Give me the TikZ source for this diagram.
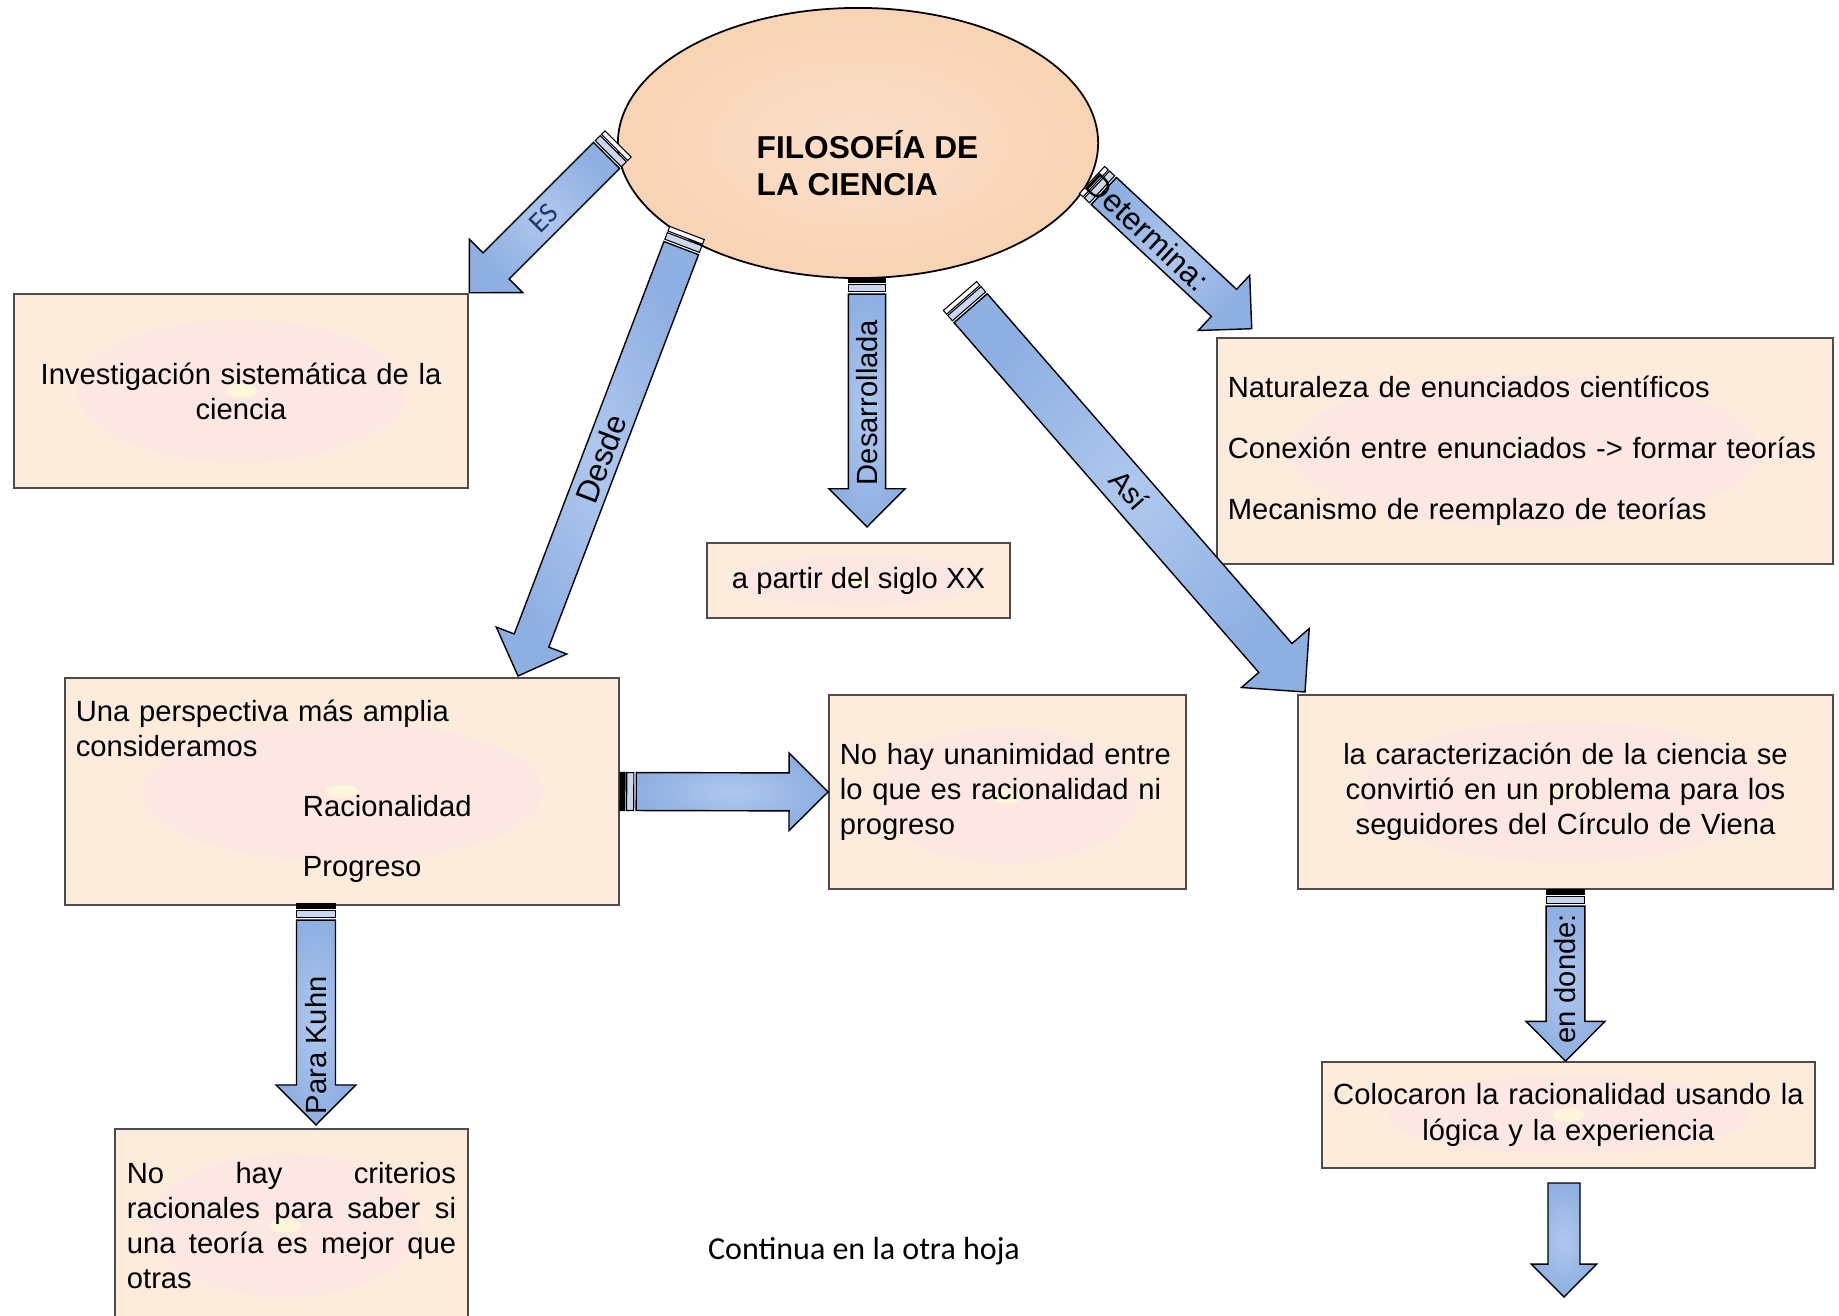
\documentclass[tikz,border=0pt]{standalone}
\usepackage{fontspec}
\setmainfont{Liberation Sans}
\newfontfamily\calibri{Carlito}
\usepackage{tikz}
\usetikzlibrary{shapes.geometric,calc}
\definecolor{cajafondo}{HTML}{FDEBDC}
\definecolor{rosa}{HTML}{FCE7E3}
\definecolor{amarillo}{HTML}{FDF6DA}
\definecolor{durazno}{HTML}{F8D3B4}
\definecolor{duraznoclaro}{HTML}{FBDFCA}
\definecolor{azul}{HTML}{8EAFE2}
\definecolor{azulclaro}{HTML}{AFC8EE}
\definecolor{tapa}{HTML}{C9D8F0}
\definecolor{marino}{HTML}{1F3A70}
\tikzset{
  font={\fontsize{8.3pt}{10pt}\selectfont}}
\tikzset{
  caja/.style={draw=black!70, line width=.5pt, fill=cajafondo, inner sep=0pt},
  brillo/.style n args={4}{path picture={
    \fill[rosa] ([xshift=#3*0.01cm, yshift=-#4*0.01cm]path picture bounding box.center) ellipse [x radius=#1*0.01cm, y radius=#2*0.01cm];
    \fill[amarillo] ([xshift=#3*0.01cm, yshift=-#4*0.01cm]path picture bounding box.center) ellipse [x radius=0.16cm, y radius=0.07cm];}},
  elipse/.style={ellipse, draw=black, line width=.5pt, inner color=duraznoclaro, outer color=durazno, minimum width=4.8cm, minimum height=2.7cm, inner sep=0pt},
  titulo/.style={align=left, inner sep=0pt, font=\bfseries\fontsize{9pt}{10.4pt}\selectfont},
  etiqueta/.style={inner sep=0pt, font=\fontsize{8.3pt}{9pt}\selectfont},
  cuerpo/.style={draw=black, line width=.4pt, inner color=azulclaro, outer color=azul}}

% \flecha[tapa]{nombre}{desde}{hasta}{media anchura}{texto}{pos}{giro}
\newcommand{\flecha}[8][black]{%
  \path let \p1=($(#4)-(#3)$) in
    \pgfextra{\pgfmathsetmacro\fla{atan2(\y1,\x1)}\pgfmathsetmacro\fll{veclen(\x1,\y1)}%
      \xdef\flang{\fla}\xdef\fllen{\fll}};
  \begin{scope}[shift={(#3)}, rotate=\flang]
    \def\fltmp{#1}\def\flno{none}%
    \ifx\fltmp\flno \def\flini{0pt}\else
      \draw[line width=.3pt, fill=#1] (0pt,-#5pt) rectangle (1.4pt,#5pt);
      \draw[line width=.3pt, fill=tapa] (1.9pt,-#5pt) rectangle (3.9pt,#5pt);
      \def\flini{4.6pt}\fi
    \shadedraw[cuerpo] (\flini,-#5pt) -- ({\fllen pt-2.05*#5pt},-#5pt)
      -- ({\fllen pt-2.05*#5pt},{-2.04*#5pt}) -- ({\fllen pt},0pt)
      -- ({\fllen pt-2.05*#5pt},{2.04*#5pt}) -- ({\fllen pt-2.05*#5pt},#5pt)
      -- (\flini,#5pt) -- cycle;
    \node[etiqueta, transform shape, rotate=#8] (#2) at ({#7*\fllen pt},0pt) {#6};
  \end{scope}}

\begin{document}
\begin{tikzpicture}[x=0.01cm, y=-0.01cm]
\useasboundingbox (0,0) rectangle (1839,1316);

\node[elipse] (filo) at (858,143) {};
\node[titulo, anchor=west] (filotxt) at (756,163) {FILOSOFÍA DE\\LA CIENCIA};

\node[caja, minimum width=4.54cm, minimum height=1.94cm, text width=4.3cm, align=center, brillo={164}{71}{0}{0}] (inv) at (241,391) {Investigación sistemática de la\\ciencia};
\node[caja, minimum width=3.03cm, minimum height=.75cm, brillo={125}{25}{0}{0}] (siglo) at (858.5,580.5) {a partir del siglo XX};
\node[caja, minimum width=6.16cm, minimum height=2.26cm, text width=5.94cm, align=left, brillo={235}{76}{0}{0}] (enun) at (1525,451) {Naturaleza de enunciados científicos\\[7.3pt]Conexión entre enunciados -> formar teorías\\[7.3pt]Mecanismo de reemplazo de teorías};
\node[caja, minimum width=5.54cm, minimum height=2.27cm, text width=5.32cm, align=left, brillo={200}{70}{0}{0}] (persp) at (342,791.5) {Una perspectiva más amplia\\consideramos\\[7.1pt]\hspace*{2.27cm}Racionalidad\\[7.1pt]\hspace*{2.27cm}Progreso};
\node[caja, minimum width=3.57cm, minimum height=1.94cm, text width=3.35cm, align=left, brillo={130}{67}{0}{4}] (unan) at (1007.5,792) {No hay unanimidad entre\\lo que es racionalidad ni\\progreso};
\node[caja, minimum width=5.35cm, minimum height=1.94cm, text width=5.1cm, align=center, brillo={205}{70}{0}{0}] (carac) at (1565.5,792) {la caracterización de la ciencia se\\convirtió en un problema para los\\seguidores del Círculo de Viena};
\node[caja, minimum width=4.93cm, minimum height=1.06cm, text width=4.85cm, align=center, brillo={180}{39}{0}{0}] (coloc) at (1568.5,1115) {Colocaron la racionalidad usando la\\lógica y la experiencia};
\node[caja, minimum width=3.53cm, minimum height=1.93cm, text width=3.29cm, align=justify, brillo={135}{71}{-6}{0}] (crit) at (291.5,1225.5) {No hay criterios\linebreak racionales para saber si\linebreak una teoría es mejor que\linebreak otras};
\node[font=\calibri\fontsize{9.1pt}{11pt}\selectfont] (continua) at (864,1251) {Continua en la otra hoja};

\coordinate (es-ini) at (618,144);
\coordinate (desde-ini) at (687,233);
\coordinate (desde-fin) at (518,676);
\coordinate (desa-ini) at (867,278);
\coordinate (desa-fin) at (867,527);
\coordinate (det-ini) at (1092,180);
\coordinate (det-fin) at (1252,329);
\coordinate (asi-ini) at (960,296);
\coordinate (asi-fin) at (1305,692);
\coordinate (kuhn-ini) at (316,904);
\coordinate (kuhn-fin) at (316,1125);
\coordinate (donde-fin) at (carac.south |- coloc.north);
\coordinate (sig-ini) at (1564,1183);
\coordinate (sig-fin) at (1564,1297);

\flecha[white]{es}{es-ini}{inv.north east}{5.26}{\calibri\color{marino}ES}{0.5}{180}
\flecha[white]{desde}{desde-ini}{desde-fin}{5.26}{\fontsize{9pt}{9pt}\selectfont Desde}{0.51}{180}
\flecha{desa}{desa-ini}{desa-fin}{5.3}{Desarrollada}{0.5}{180}
\flecha[white]{det}{det-ini}{det-fin}{5.26}{\fontsize{9pt}{9pt}\selectfont Determina:}{0.35}{0}
\flecha[white]{asi}{asi-ini}{asi-fin}{6.26}{Así}{0.49}{0}
\flecha{hor}{persp.east}{unan.west}{5.4}{}{0.5}{0}
\flecha{kuhn}{kuhn-ini}{kuhn-fin}{5.55}{Para Kuhn}{0.64}{180}
\flecha{donde}{carac.south}{donde-fin}{5.5}{en donde:}{0.52}{180}
\flecha[none]{sig}{sig-ini}{sig-fin}{4.55}{}{0.5}{0}
\end{tikzpicture}
\end{document}
